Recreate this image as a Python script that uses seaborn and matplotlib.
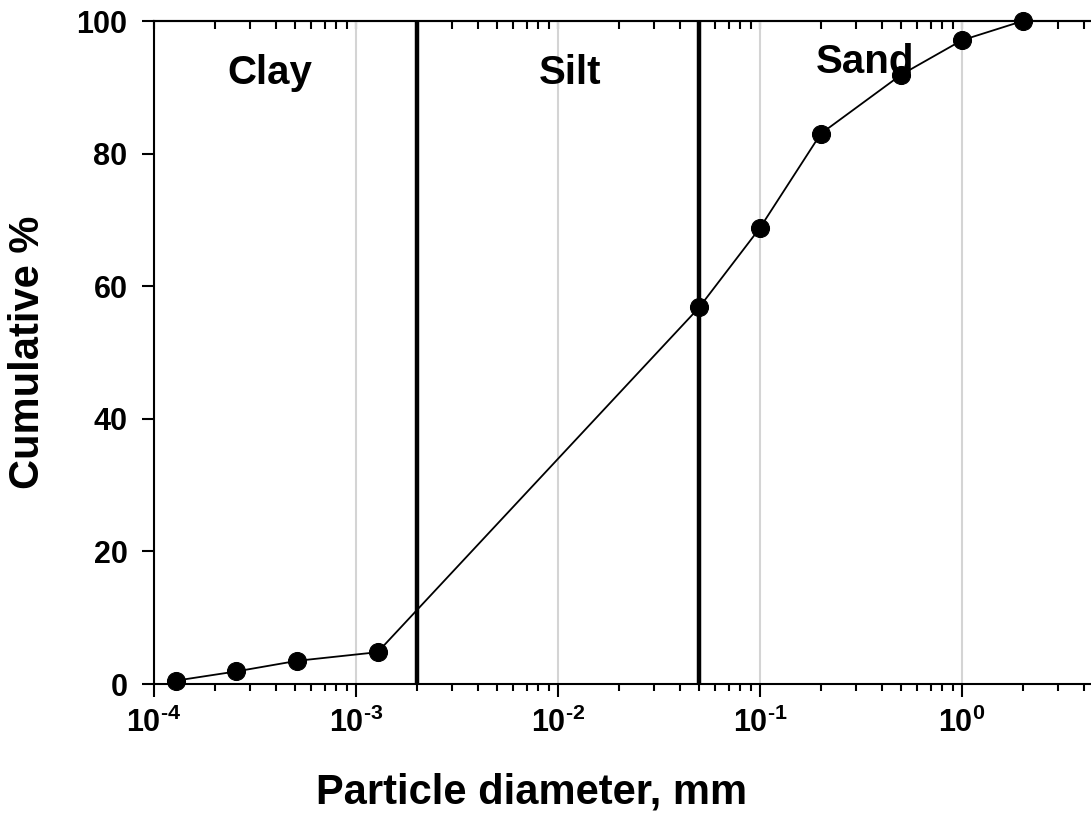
import numpy as np
import pandas as pd
import matplotlib
matplotlib.use("Agg")
import matplotlib.pyplot as plt
import seaborn as sns

# ---- data ----
diameter_mm = [0.000128, 0.000256, 0.000512, 0.00128, 0.05, 0.1, 0.2, 0.5, 1.0, 2.0]
cumulative_pct = [0.5, 1.9, 3.5, 4.8, 56.8, 68.8, 83.0, 91.9, 97.1, 100.0]
boundaries_mm = [0.002, 0.05]
class_names = ["Clay", "Silt", "Sand"]
class_x = [3.75e-4, 0.0115, 0.33]
class_y = [92.2, 92.2, 93.8]
xtick_vals = [1e-4, 1e-3, 1e-2, 1e-1, 1e0]
xtick_labels = [r"$10^{\text{-4}}$", r"$10^{\text{-3}}$", r"$10^{\text{-2}}$",
                r"$10^{\text{-1}}$", r"$10^{\text{0}}$"]
ytick_vals = [0, 20, 40, 60, 80, 100]

sns.set_style("ticks")
plt.rcParams["font.family"] = ["Liberation Sans", "DejaVu Sans"]
plt.rcParams["font.weight"] = "bold"
plt.rcParams["mathtext.default"] = "regular"
plt.rcParams["mathtext.fontset"] = "custom"
plt.rcParams["mathtext.rm"] = "Liberation Sans:bold"
plt.rcParams["mathtext.bf"] = "Liberation Sans:bold"
for k in ["text.color", "axes.labelcolor", "xtick.color", "ytick.color", "axes.edgecolor"]:
    plt.rcParams[k] = "black"

W, H = 1091, 815
fig = plt.figure(figsize=(W / 100, H / 100), dpi=100)
left_px, right_px, top_px, bot_px = 154, 1164, 21, 684
ax = fig.add_axes([left_px / W, 1 - bot_px / H, (right_px - left_px) / W, (bot_px - top_px) / H])
ax.set_xscale("log")
ax.set_xlim(1e-4, 10)
ax.set_ylim(0, 100)

ax.grid(axis="x", which="major", color="#d4d4d4", linewidth=1.5, zorder=0)
for b in boundaries_mm:
    ax.axvline(b, color="black", linewidth=3.2, zorder=2)

df = pd.DataFrame({"d": diameter_mm, "c": cumulative_pct})
sns.lineplot(data=df, x="d", y="c", ax=ax, color="black", linewidth=1.3,
             marker="o", markersize=13, markeredgecolor="black",
             sort=False, zorder=3, clip_on=False)

for name, xx, yy in zip(class_names, class_x, class_y):
    ax.text(xx, yy, name, ha="center", va="center", fontsize=29, fontweight="bold",
            color="black", zorder=1)

ax.set_xticks(xtick_vals)
ax.set_xticklabels(xtick_labels, fontsize=22, fontweight="bold")
ax.set_yticks(ytick_vals)
ax.set_yticklabels([str(v) for v in ytick_vals], fontsize=22, fontweight="bold")
ax.tick_params(axis="x", which="major", direction="out", length=9, width=1.5, pad=8, colors="black")
ax.tick_params(axis="x", which="minor", direction="out", length=5, width=1.5, colors="black")
ax.tick_params(axis="y", which="major", direction="out", length=9, width=1.5, pad=10, colors="black")

for s in ["left", "bottom", "top"]:
    ax.spines[s].set_linewidth(1.5)
    ax.spines[s].set_color("black")
ax.spines["right"].set_visible(False)

sec = ax.secondary_xaxis("top")
sec.set_xticks(xtick_vals)
sec.tick_params(axis="x", which="both", direction="in", length=6, width=1.5, labeltop=False,
                colors="black")
sec.spines["top"].set_linewidth(1.5)
sec.spines["top"].set_color("black")

ax.set_xlabel("Particle diameter, mm", fontsize=30, fontweight="bold", color="black")
ax.set_ylabel("Cumulative %", fontsize=30, fontweight="bold", color="black")
ax.xaxis.set_label_coords((532 - left_px) / (right_px - left_px), -(792 - bot_px) / (bot_px - top_px))
ax.xaxis.label.set_va("center")
ax.yaxis.set_label_coords(-(154 - 28) / (right_px - left_px), 0.5)
ax.yaxis.label.set_va("center")

fig.savefig("out.png", dpi=100)
